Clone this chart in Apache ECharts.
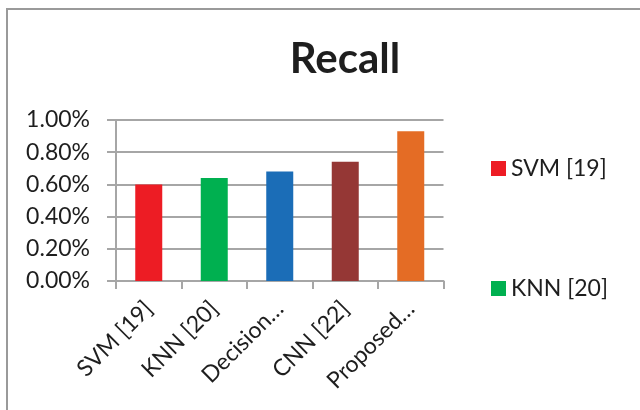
<!DOCTYPE html>
<html>
<head>
<meta charset="utf-8">
<style>
  html, body { margin: 0; padding: 0; background: #fff; }
  #chart { width: 640px; height: 410px; }
</style>
<script src="https://cdn.jsdelivr.net/npm/echarts@6/dist/echarts.min.js"></script>
</head>
<body>
<div id="chart"></div>
<script>
// Recall of each method (axis shows values with a % suffix)
const categories = ['SVM [19]', 'KNN [20]', 'Decision…', 'CNN [22]', 'Proposed…'];
const recallValues = [0.60, 0.64, 0.68, 0.74, 0.93];
const barColors = ['#ED1C24', '#00B050', '#1B6DB7', '#953735', '#E46C25'];
const legendNames = ['SVM [19]', 'KNN [20]'];
const yTicks = { min: 0, max: 1.0, interval: 0.2 };

const FONT = 'Lato, "Open Sans", sans-serif';
const TEXT = '#1e1e1e';

// one series per method so the legend can list them by name
const series = categories.map((name, i) => ({
  name: name,
  type: 'bar',
  stack: 'all',
  barWidth: 27,
  itemStyle: { color: barColors[i] },
  data: recallValues.map((v, j) => (j === i ? v : null))
}));

const chart = echarts.init(document.getElementById('chart'));
chart.setOption({
  animation: false,
  backgroundColor: '#fff',
  title: {
    text: 'Recall',
    left: 340,
    textAlign: 'center',
    top: 33,
    textStyle: { fontFamily: FONT, fontSize: 42, fontWeight: 'bold', color: TEXT }
  },
  legend: {
    data: legendNames,
    orient: 'vertical',
    left: 486,
    top: 152,
    itemWidth: 15,
    itemHeight: 15,
    itemGap: 97,
    icon: 'rect',
    textStyle: { fontFamily: FONT, fontSize: 23, color: TEXT }
  },
  grid: { left: 116, top: 120, right: 196.5, bottom: 129, containLabel: false },
  xAxis: {
    type: 'category',
    data: categories,
    axisLine: { lineStyle: { color: '#a6a6a6', width: 2 } },
    axisTick: { show: true, length: 8, lineStyle: { color: '#a6a6a6', width: 2 } },
    axisLabel: {
      rotate: 45,
      margin: 24,
      fontFamily: FONT,
      fontSize: 23,
      color: TEXT,
      interval: 0
    }
  },
  yAxis: {
    type: 'value',
    min: yTicks.min,
    max: yTicks.max,
    interval: yTicks.interval,
    axisLine: { show: true, lineStyle: { color: '#a6a6a6', width: 2 } },
    axisTick: { show: true, length: 9, lineStyle: { color: '#a6a6a6', width: 2 } },
    splitLine: { lineStyle: { color: '#a6a6a6', width: 2 } },
    axisLabel: {
      margin: 26,
      fontFamily: FONT,
      fontSize: 23,
      color: TEXT,
      formatter: v => v.toFixed(2) + '%'
    }
  },
  graphic: [{
    type: 'rect',
    shape: { x: 7, y: 9, width: 700, height: 500 },
    style: { fill: null, stroke: '#9a9a9a', lineWidth: 2 },
    silent: true,
    z: -1
  }],
  series: series
});
</script>
</body>
</html>
